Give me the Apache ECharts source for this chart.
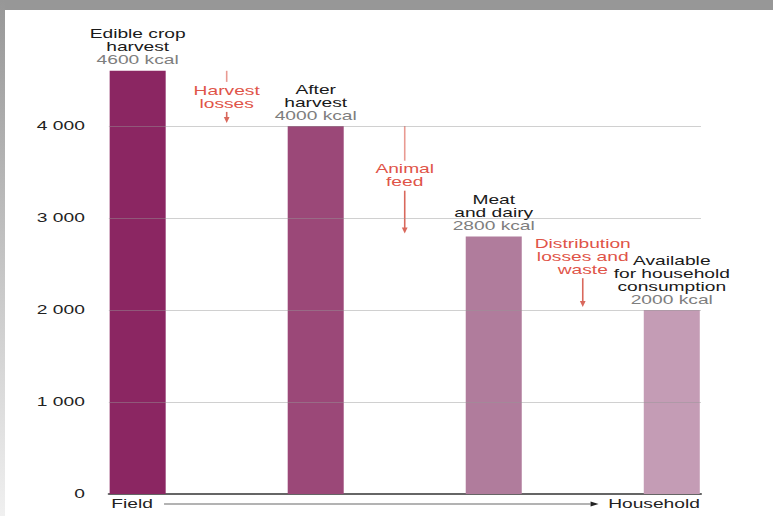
<!DOCTYPE html>
<html>
<head>
<meta charset="utf-8">
<script src="https://cdn.jsdelivr.net/npm/echarts@6/dist/echarts.min.js"></script>
<style>
  html, body { margin: 0; padding: 0; background: #fff; overflow: hidden; }
  #wrap { position: relative; width: 773px; height: 516px; overflow: hidden; background: #fff; }
  /* the source picture is stretched sideways, so the chart is drawn narrow and widened */
  #chart { position: absolute; left: 0; top: 0; width: 483px; height: 516px; transform: scaleX(1.6004); transform-origin: 0 0; }
  #frameTop { position: absolute; left: 0; top: 0; width: 773px; height: 10px; background: #979797; }
  #frameLeft { position: absolute; left: 0; top: 0; width: 5px; height: 516px; background: linear-gradient(#979797, #f0f0f0); }
</style>
</head>
<body>
<div id="wrap">
  <div id="chart"></div>
  <div id="frameTop"></div>
  <div id="frameLeft"></div>
</div>
<script>
// data
const stageNames = ['Edible crop\nharvest', 'After\nharvest', 'Meat\nand dairy', 'Available\nfor household\nconsumption'];
const stageKcal = [4600, 4000, 2800, 2000];
const lossNames = ['Harvest\nlosses', 'Animal\nfeed', 'Distribution\nlosses and\nwaste'];
const yTicks = [0, 1000, 2000, 3000, 4000];
const flowEnds = ['Field', 'Household'];

// styles
const barColors = ['#8b2662', '#9b4878', '#b07c9c', '#c49cb5'];
const lossTextShift = [0, -4, -15];
const FONT = '"Liberation Sans", Arial, sans-serif';
const RED = '#df5448';

const fmtTick = v => v === 0 ? '0' : (v / 1000) + ' 000';

const chart = echarts.init(document.getElementById('chart'), null, { renderer: 'svg' });

const option = {
    animation: false,
    backgroundColor: 'transparent',
    grid: { left: 68, right: 45, top: 34, bottom: 22, outerBoundsMode: 'none' },
    xAxis: {
        type: 'value',
        min: -0.162,
        max: 3.164,
        axisLine: { show: true, onZero: false, lineStyle: { color: '#333', width: 1.5 } },
        axisTick: { show: false },
        axisLabel: { show: false },
        splitLine: { show: false }
    },
    yAxis: {
        type: 'value',
        min: 0,
        max: 5000,
        interval: 1000,
        axisLine: { show: false },
        axisTick: { show: false },
        splitLine: { show: false },
        axisLabel: {
            margin: 15,
            color: '#222',
            fontSize: 12,
            fontFamily: FONT,
            formatter: v => yTicks.includes(v) ? fmtTick(v) : ''
        }
    },
    series: [
        {
            type: 'custom',
            z: 1,
            silent: true,
            encode: { x: 0, y: [1, 2] },
            data: lossNames.map((n, i) => [i + 0.5, stageKcal[i], stageKcal[i + 1]]),
            renderItem: (params, api) => {
                const i = params.dataIndex;
                const top = api.coord([api.value(0), api.value(1)]);
                const bot = api.coord([api.value(0), api.value(2)]);
                const x = top[0];
                const tip = bot[1] - 3;
                const mid = (top[1] + tip) / 2 + lossTextShift[i];
                const nLines = lossNames[i].split('\n').length;
                const tTop = mid - nLines * 13 / 2 - 2;
                const tBot = mid + nLines * 13 / 2 + 2;
                const children = [];
                if (tTop > top[1] + 1) {
                    children.push({ type: 'line', shape: { x1: x, y1: top[1], x2: x, y2: tTop },
                        style: { stroke: '#e99a92', lineWidth: 1 } });
                }
                children.push({ type: 'line', shape: { x1: x, y1: tBot, x2: x, y2: tip - 5 },
                    style: { stroke: '#d9685c', lineWidth: 1 } });
                children.push({ type: 'polygon', shape: { points: [[x - 1.8, tip - 6], [x + 1.8, tip - 6], [x, tip]] },
                    style: { fill: '#d9685c' } });
                children.push({ type: 'text', style: {
                    text: lossNames[i], x: x, y: mid, align: 'center', verticalAlign: 'middle',
                    fill: RED, fontSize: 12, fontFamily: FONT, lineHeight: 13 } });
                return { type: 'group', children: children };
            }
        },
        {
            type: 'bar',
            z: 2,
            barWidth: 35,
            data: stageKcal.map((v, i) => ({ value: [i, v], itemStyle: { color: barColors[i] } })),
            label: {
                show: true,
                position: 'top',
                distance: 4,
                align: 'center',
                formatter: p => stageNames[p.dataIndex].split('\n').map(l => '{n|' + l + '}').join('\n')
                    + '\n{v|' + stageKcal[p.dataIndex] + ' kcal}',
                rich: {
                    n: { color: '#1a1a1a', fontSize: 12, lineHeight: 13, fontFamily: FONT },
                    v: { color: '#7e7e7e', fontSize: 12, lineHeight: 13, fontFamily: FONT }
                }
            },
            markLine: {
                silent: true,
                symbol: 'none',
                label: { show: false },
                lineStyle: { color: 'rgba(150,150,150,0.45)', type: 'solid', width: 1 },
                data: yTicks.filter(v => v > 0).map(v => ({ yAxis: v }))
            }
        }
    ],
    graphic: [
        { type: 'text', x: 69.5, y: 504, style: { text: flowEnds[0], fill: '#222', fontSize: 12, fontFamily: FONT, verticalAlign: 'middle' } },
        { type: 'line', shape: { x1: 102.5, y1: 504, x2: 369, y2: 504 }, style: { stroke: '#9a9a9a', lineWidth: 1.5 } },
        { type: 'polygon', shape: { points: [[369, 501.5], [369, 506.5], [374, 504]] }, style: { fill: '#222' } },
        { type: 'text', x: 380, y: 504, style: { text: flowEnds[1], fill: '#222', fontSize: 12, fontFamily: FONT, verticalAlign: 'middle' } }
    ]
};

chart.setOption(option);
</script>
</body>
</html>
